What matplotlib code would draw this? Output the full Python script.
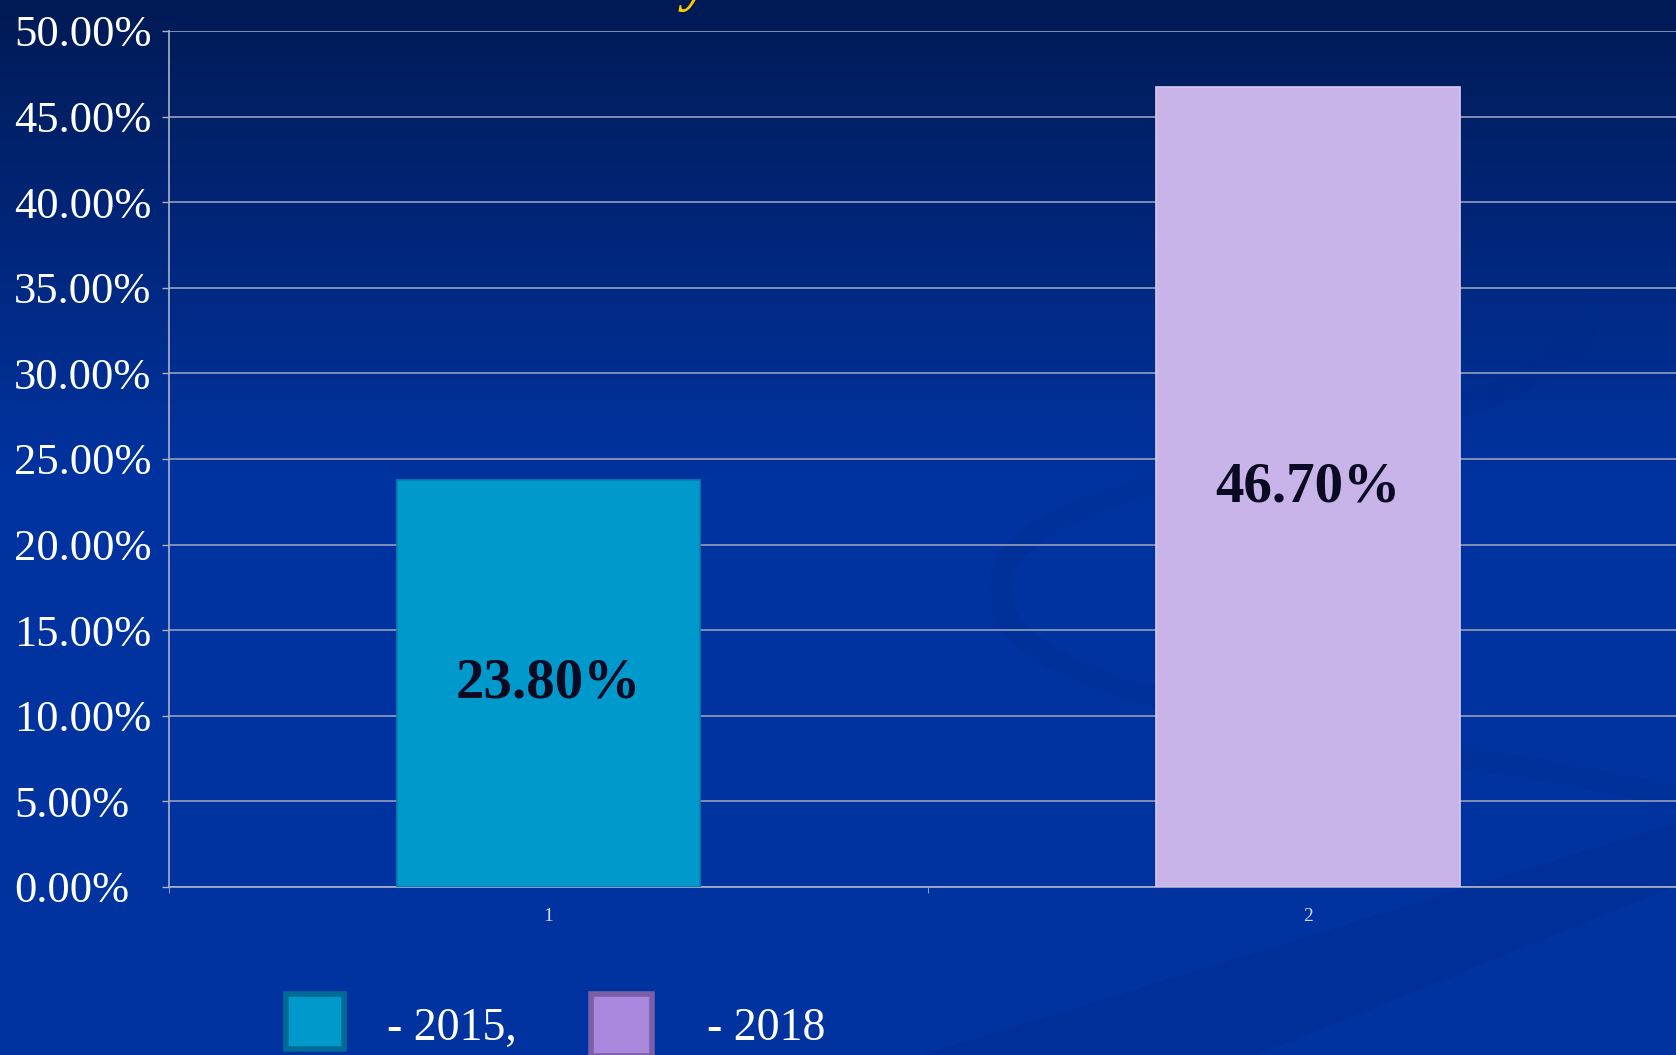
import numpy as np
import matplotlib
matplotlib.use("Agg")
import matplotlib.pyplot as plt
from matplotlib.patches import Rectangle, PathPatch
from matplotlib.path import Path
from matplotlib.colors import LinearSegmentedColormap

# ---- data ----
categories = ["1", "2"]
values = [23.80, 46.70]
bar_colors = ["#0099cc", "#c8b4e8"]
edge_colors = ["#0a7fb0", "#d8c8f0"]
yticks = [0, 5, 10, 15, 20, 25, 30, 35, 40, 45, 50]
ytick_labels = [f"{v:.2f}%" for v in yticks]
legend_labels = ["- 2015,", "- 2018"]
legend_colors = ["#0099cc", "#a888dd"]
legend_edges = ["#006b96", "#7b5ea8"]

W, H = 1676, 1055
plt.rcParams['font.family'] = ['Liberation Serif', 'DejaVu Serif']
fig = plt.figure(figsize=(W / 100, H / 100), dpi=100)

# ---- background gradient ----
bg = fig.add_axes([0, 0, 1, 1], zorder=-10)
bg.set_axis_off()
cmap = LinearSegmentedColormap.from_list(
    "bg", [(0.0, "#001a55"), (0.45, "#0033a0"), (1.0, "#0033a0")])
grad = np.linspace(0, 1, 256).reshape(-1, 1)
bg.imshow(grad, aspect="auto", cmap=cmap, extent=[0, 1, 0, 1], origin="upper")
bg.set_xlim(0, 1)
bg.set_ylim(0, 1)
# subtle decorative swoosh on the right
def P(px, py):
    return (px / W, 1 - py / H)
verts = [P(1600, 290), P(1580, 470), P(1000, 440), P(1000, 590),
         P(1000, 720), P(1450, 740), P(1690, 800)]
codes = [Path.MOVETO, Path.CURVE4, Path.CURVE4, Path.CURVE4,
         Path.CURVE4, Path.CURVE4, Path.CURVE4]
bg.add_patch(PathPatch(Path(verts, codes), facecolor="none",
                       edgecolor="#002a8c", lw=16, alpha=0.3))
# subtle diagonal band bottom-right
bg.fill([0.55, 1.0, 1.0, 0.75], [0.0, 0.22, 0.16, 0.0], color="#002a88", alpha=0.35, lw=0)

# ---- main axes ----
left = 169 / W
bottom = 1 - 887 / H
top = 1 - 31 / H
ax = fig.add_axes([left, bottom, 1 - left, top - bottom])
ax.set_facecolor("none")

x = np.arange(len(categories))
bars = ax.bar(x, values, width=0.4, color=bar_colors, edgecolor=edge_colors,
              linewidth=1.2, zorder=3)
ax.bar_label(bars, labels=[f"{v:.2f}%" for v in values], label_type="center",
             fontsize=41, fontweight="bold", color="#0a0a22")

ax.set_yticks(yticks)
ax.set_yticklabels(ytick_labels)
ax.tick_params(axis="y", colors="#aab2c8", length=5, width=1, labelcolor="white",
               labelsize=32, pad=155 / 1.389 - 5)
for lab in ax.get_yticklabels():
    lab.set_horizontalalignment("left")

ax.set_xticks(x)
ax.set_xticklabels(categories)
ax.set_xticks([-0.5, 0.5], minor=True)
ax.tick_params(axis="x", which="major", length=0, labelsize=14,
               labelcolor="#d4d8ec", pad=15)
ax.tick_params(axis="x", which="minor", length=4, color="#aab2c8")

ax.set_xlim(-0.5, 1.485)
ax.set_ylim(0, 50)

ax.yaxis.grid(True, color="#8a96b8", linewidth=1.3, zorder=0)
ax.set_axisbelow(True)
for s in ["top", "right"]:
    ax.spines[s].set_visible(False)
for s in ["left", "bottom"]:
    ax.spines[s].set_color("#aab2c8")
    ax.spines[s].set_linewidth(1.2)

# ---- partially visible title glyph ----
fig.text(684 / W, 1.0, "y", color="#ffcc00", fontsize=40, fontweight="bold",
         fontstyle="italic", va="baseline", ha="left")

# ---- legend ----
sq = [(286, 994, 58, 55), (591, 994, 61, 62)]
txt_x = [387, 707]
for (sx, sy, sw, sh), fc, ec, lab, tx in zip(sq, legend_colors, legend_edges,
                                             legend_labels, txt_x):
    fig.add_artist(Rectangle((sx / W, 1 - (sy + sh) / H), sw / W, sh / H,
                             transform=fig.transFigure, facecolor=fc,
                             edgecolor=ec, linewidth=4))
    fig.text(tx / W, 1 - 1040 / H, lab, color="white", fontsize=33,
             ha="left", va="baseline")

fig.savefig("out.png", dpi=100)
